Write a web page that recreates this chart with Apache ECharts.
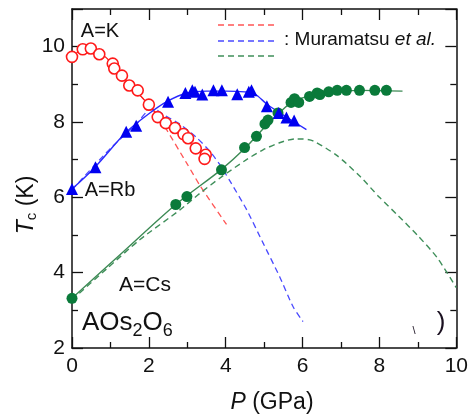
<!DOCTYPE html>
<html><head><meta charset="utf-8">
<script src="https://cdn.jsdelivr.net/npm/echarts@6/dist/echarts.min.js"></script>
<style>html,body{margin:0;padding:0;background:#fff}#c{width:471px;height:419px}</style>
</head><body><div id="c"></div>
<script>
// ---- data ----
const kP  = [0, 0.28, 0.49, 0.71, 1.06, 1.1, 1.3, 1.49, 1.71, 2.0, 2.23, 2.44, 2.68, 2.9, 3.02, 3.22, 3.48, 3.45];
const kT  = [9.73, 9.93, 9.95, 9.8, 9.55, 9.42, 9.23, 8.97, 8.84, 8.46, 8.13, 7.97, 7.84, 7.68, 7.57, 7.3, 7.13, 7.02];
const kFitP = [0, 0.25, 0.5, 0.75, 1.0, 1.3, 1.6, 2.0, 2.4, 2.8, 3.2, 3.5];
const kFitT = [9.73, 9.92, 9.95, 9.82, 9.6, 9.22, 8.9, 8.45, 8.0, 7.7, 7.32, 7.02];

const rbP = [0, 0.61, 1.41, 1.67, 2.5, 2.95, 3.13, 3.2, 3.39, 3.68, 3.9, 4.3, 4.6, 4.67, 5.07, 5.38, 5.58, 5.78];
const rbT = [6.22, 6.8, 7.74, 7.9, 8.54, 8.77, 8.84, 8.8, 8.73, 8.84, 8.84, 8.74, 8.8, 8.84, 8.42, 8.24, 8.12, 8.04];
const rbFitP = [0, 0.6, 1.4, 2.0, 2.5, 3.0, 3.5, 4.0, 4.5, 4.75, 5.1, 5.6, 6.1];
const rbFitT = [6.22, 6.8, 7.72, 8.22, 8.56, 8.77, 8.82, 8.82, 8.8, 8.75, 8.45, 8.12, 7.8];

const csP = [0, 2.7, 2.99, 3.89, 4.49, 4.8, 5.02, 5.1, 5.36, 5.7, 5.79, 5.9, 6.18, 6.38, 6.45, 6.68, 6.9, 7.14, 7.48, 7.88, 8.18];
const csT = [3.32, 5.81, 6.02, 6.73, 7.32, 7.62, 7.95, 8.05, 8.24, 8.52, 8.62, 8.52, 8.68, 8.77, 8.73, 8.8, 8.84, 8.84, 8.84, 8.84, 8.84];
const csFitP = [0, 1.35, 2.7, 3.9, 4.5, 5.0, 5.4, 5.75, 6.2, 6.7, 7.5, 8.6];
const csFitT = [3.32, 4.57, 5.81, 6.75, 7.3, 7.85, 8.25, 8.55, 8.7, 8.8, 8.84, 8.82];

// Muramatsu et al. (dashed)
const muKP  = [1.6, 2.0, 2.2, 2.4, 3.0, 3.35, 4.02];
const muKT  = [8.9, 8.45, 8.2, 7.9, 6.88, 6.28, 5.28];
const muRbP = [0, 1.0, 1.68, 2.03, 2.2, 2.37, 2.8, 3.24, 3.58, 3.84, 4.1, 4.54, 4.97, 5.4, 5.75, 6.01];
const muRbT = [6.2, 7.3, 7.95, 8.33, 8.32, 8.2, 7.95, 7.59, 7.23, 6.88, 6.45, 5.68, 4.79, 3.9, 3.1, 2.7];
const muCsP = [0, 0.9, 1.77, 2.8, 3.32, 3.9, 4.54, 4.97, 5.4, 5.8, 6.0, 6.27, 6.88, 7.5, 8.0, 8.5, 9.0, 9.5, 10.0];
const muCsT = [3.28, 4.1, 4.88, 5.66, 6.1, 6.55, 7.0, 7.26, 7.45, 7.55, 7.55, 7.5, 7.12, 6.55, 6.0, 5.5, 4.98, 4.4, 3.6];

const xTickLabels = [0, 2, 4, 6, 8, 10];
const yTickLabels = [2, 4, 6, 8, 10];

// ---- chart ----
const zip = (a, b) => a.map((v, i) => [v, b[i]]);
const FONT = '"Liberation Sans", Arial, Helvetica, sans-serif';
const RED = '#ff1a1a', BLUE = '#0000f0', GREEN = '#0a7a3a';

const chart = echarts.init(document.getElementById('c'), null, {renderer: 'canvas'});

function axisBase(extra) {
  return Object.assign({
    type: 'value',
    splitLine: {show: false},
    axisLine: {show: true, onZero: false, lineStyle: {color: '#111', width: 1.5}},
    axisTick: {show: true, inside: true, length: 11, lineStyle: {color: '#111', width: 1.3}},
    minorTick: {show: true, splitNumber: 2, length: 6, lineStyle: {color: '#111', width: 1.3}},
    axisLabel: {show: false}
  }, extra);
}

const option = {
  animation: false,
  backgroundColor: '#fff',
  grid: {left: 72, right: 14, top: 9, bottom: 71, containLabel: false},
  xAxis: [
    axisBase({min: 0, max: 10, interval: 2, position: 'bottom',
      axisLabel: {show: true, fontSize: 21, margin: 8, color: '#111', fontFamily: FONT,
        formatter: v => xTickLabels.includes(v) ? String(v) : ''}}),
    axisBase({min: 0, max: 10, interval: 2, position: 'top'})
  ],
  yAxis: [
    axisBase({min: 2, max: 11, interval: 2, position: 'left',
      axisLabel: {show: true, fontSize: 21, margin: 7, color: '#111', fontFamily: FONT,
        formatter: v => yTickLabels.includes(v) ? String(v) : ''}}),
    axisBase({min: 2, max: 11, interval: 2, position: 'right'})
  ],
  series: [
    {type: 'line', data: zip(muKP, muKT), smooth: 0.2, showSymbol: false, z: 2,
      lineStyle: {color: '#ff5555', width: 1.3, type: [6, 4]}},
    {type: 'line', data: zip(muRbP, muRbT), smooth: 0.2, showSymbol: false, z: 2,
      lineStyle: {color: '#4a4aff', width: 1.3, type: [6, 4]}},
    {type: 'line', data: zip(muCsP, muCsT), smooth: 0.25, showSymbol: false, z: 2,
      lineStyle: {color: '#3f8f5a', width: 1.4, type: [6, 4]}},
    {type: 'line', data: zip(kFitP, kFitT), smooth: 0.3, showSymbol: false, z: 3,
      lineStyle: {color: RED, width: 1.2}},
    {type: 'line', data: zip(rbFitP, rbFitT), smooth: 0.3, showSymbol: false, z: 3,
      lineStyle: {color: '#2a2aff', width: 1.4}},
    {type: 'line', data: zip(csFitP, csFitT), smooth: 0.3, showSymbol: false, z: 3,
      lineStyle: {color: '#3d8a55', width: 1.4}},
    {type: 'scatter', data: zip(csP, csT), symbol: 'circle', symbolSize: 11, z: 4,
      itemStyle: {color: GREEN, opacity: 1}},
    {type: 'scatter', data: zip(rbP, rbT), symbol: 'triangle', symbolSize: 12, z: 5,
      itemStyle: {color: BLUE, opacity: 1}},
    {type: 'scatter', data: zip(kP, kT), symbol: 'circle', symbolSize: 11, z: 6,
      itemStyle: {color: '#fff', borderColor: RED, borderWidth: 1.6, opacity: 1}}
  ],
  graphic: [
    // legend dashes
    {type: 'line', shape: {x1: 218, y1: 25, x2: 277, y2: 25}, style: {stroke: '#ff5555', lineWidth: 1.3, lineDash: [6, 4]}},
    {type: 'line', shape: {x1: 218, y1: 41, x2: 277, y2: 41}, style: {stroke: '#4a4aff', lineWidth: 1.3, lineDash: [6, 4]}},
    {type: 'line', shape: {x1: 218, y1: 56, x2: 277, y2: 56}, style: {stroke: '#3f8f5a', lineWidth: 1.3, lineDash: [6, 4]}},
    {type: 'text', left: 284, top: 30, style: {text: '{n|: Muramatsu }{i|et al.}',
      rich: {n: {fontSize: 19, fontFamily: FONT, fill: '#111'}, i: {fontSize: 19, fontFamily: FONT, fontStyle: 'italic', fill: '#111'}}}},
    // panel labels
    {type: 'text', x: 100, y: 31, style: {text: 'A=K', fontSize: 20, fontFamily: FONT, fill: '#111', align: 'center', verticalAlign: 'middle'}},
    {type: 'text', x: 110, y: 190, style: {text: 'A=Rb', fontSize: 20, fontFamily: FONT, fill: '#111', align: 'center', verticalAlign: 'middle'}},
    {type: 'text', x: 145, y: 285, style: {text: 'A=Cs', fontSize: 21, fontFamily: FONT, fill: '#111', align: 'center', verticalAlign: 'middle'}},
    {type: 'text', left: 82, top: 310, style: {text: '{m|AOs}{s|2}{m|O}{s|6}',
      rich: {m: {fontSize: 26, fontFamily: FONT, fill: '#111', verticalAlign: 'top', lineHeight: 27},
             s: {fontSize: 18, fontFamily: FONT, fill: '#111', padding: [12, 0, 0, 0], lineHeight: 31}}}},
    // axis titles
    {type: 'text', x: 27, y: 205, rotation: Math.PI / 2, style: {text: '{i|T}{s|c}{n| (K)}', align: 'center', verticalAlign: 'middle',
      rich: {i: {fontSize: 23, fontFamily: FONT, fontStyle: 'italic', fill: '#111'},
             s: {fontSize: 15, fontFamily: FONT, fill: '#111', padding: [10, 0, 0, 0]},
             n: {fontSize: 23, fontFamily: FONT, fill: '#111'}}}},
    {type: 'text', x: 272, y: 403, style: {text: '{i|P}{n| (GPa)}', align: 'center', verticalAlign: 'middle',
      rich: {i: {fontSize: 23, fontFamily: FONT, fontStyle: 'italic', fill: '#111'},
             n: {fontSize: 23, fontFamily: FONT, fill: '#111'}}}},
    // stray marks in the reference
    {type: 'text', x: 441, y: 323, style: {text: ')', fontSize: 26, fontFamily: FONT, fill: '#1a1020', align: 'center', verticalAlign: 'middle'}},
    {type: 'text', x: 414, y: 331, style: {text: '\\', fontSize: 11, fontFamily: FONT, fill: '#1a1020', align: 'center', verticalAlign: 'middle'}}
  ]
};
chart.setOption(option);
</script></body></html>
